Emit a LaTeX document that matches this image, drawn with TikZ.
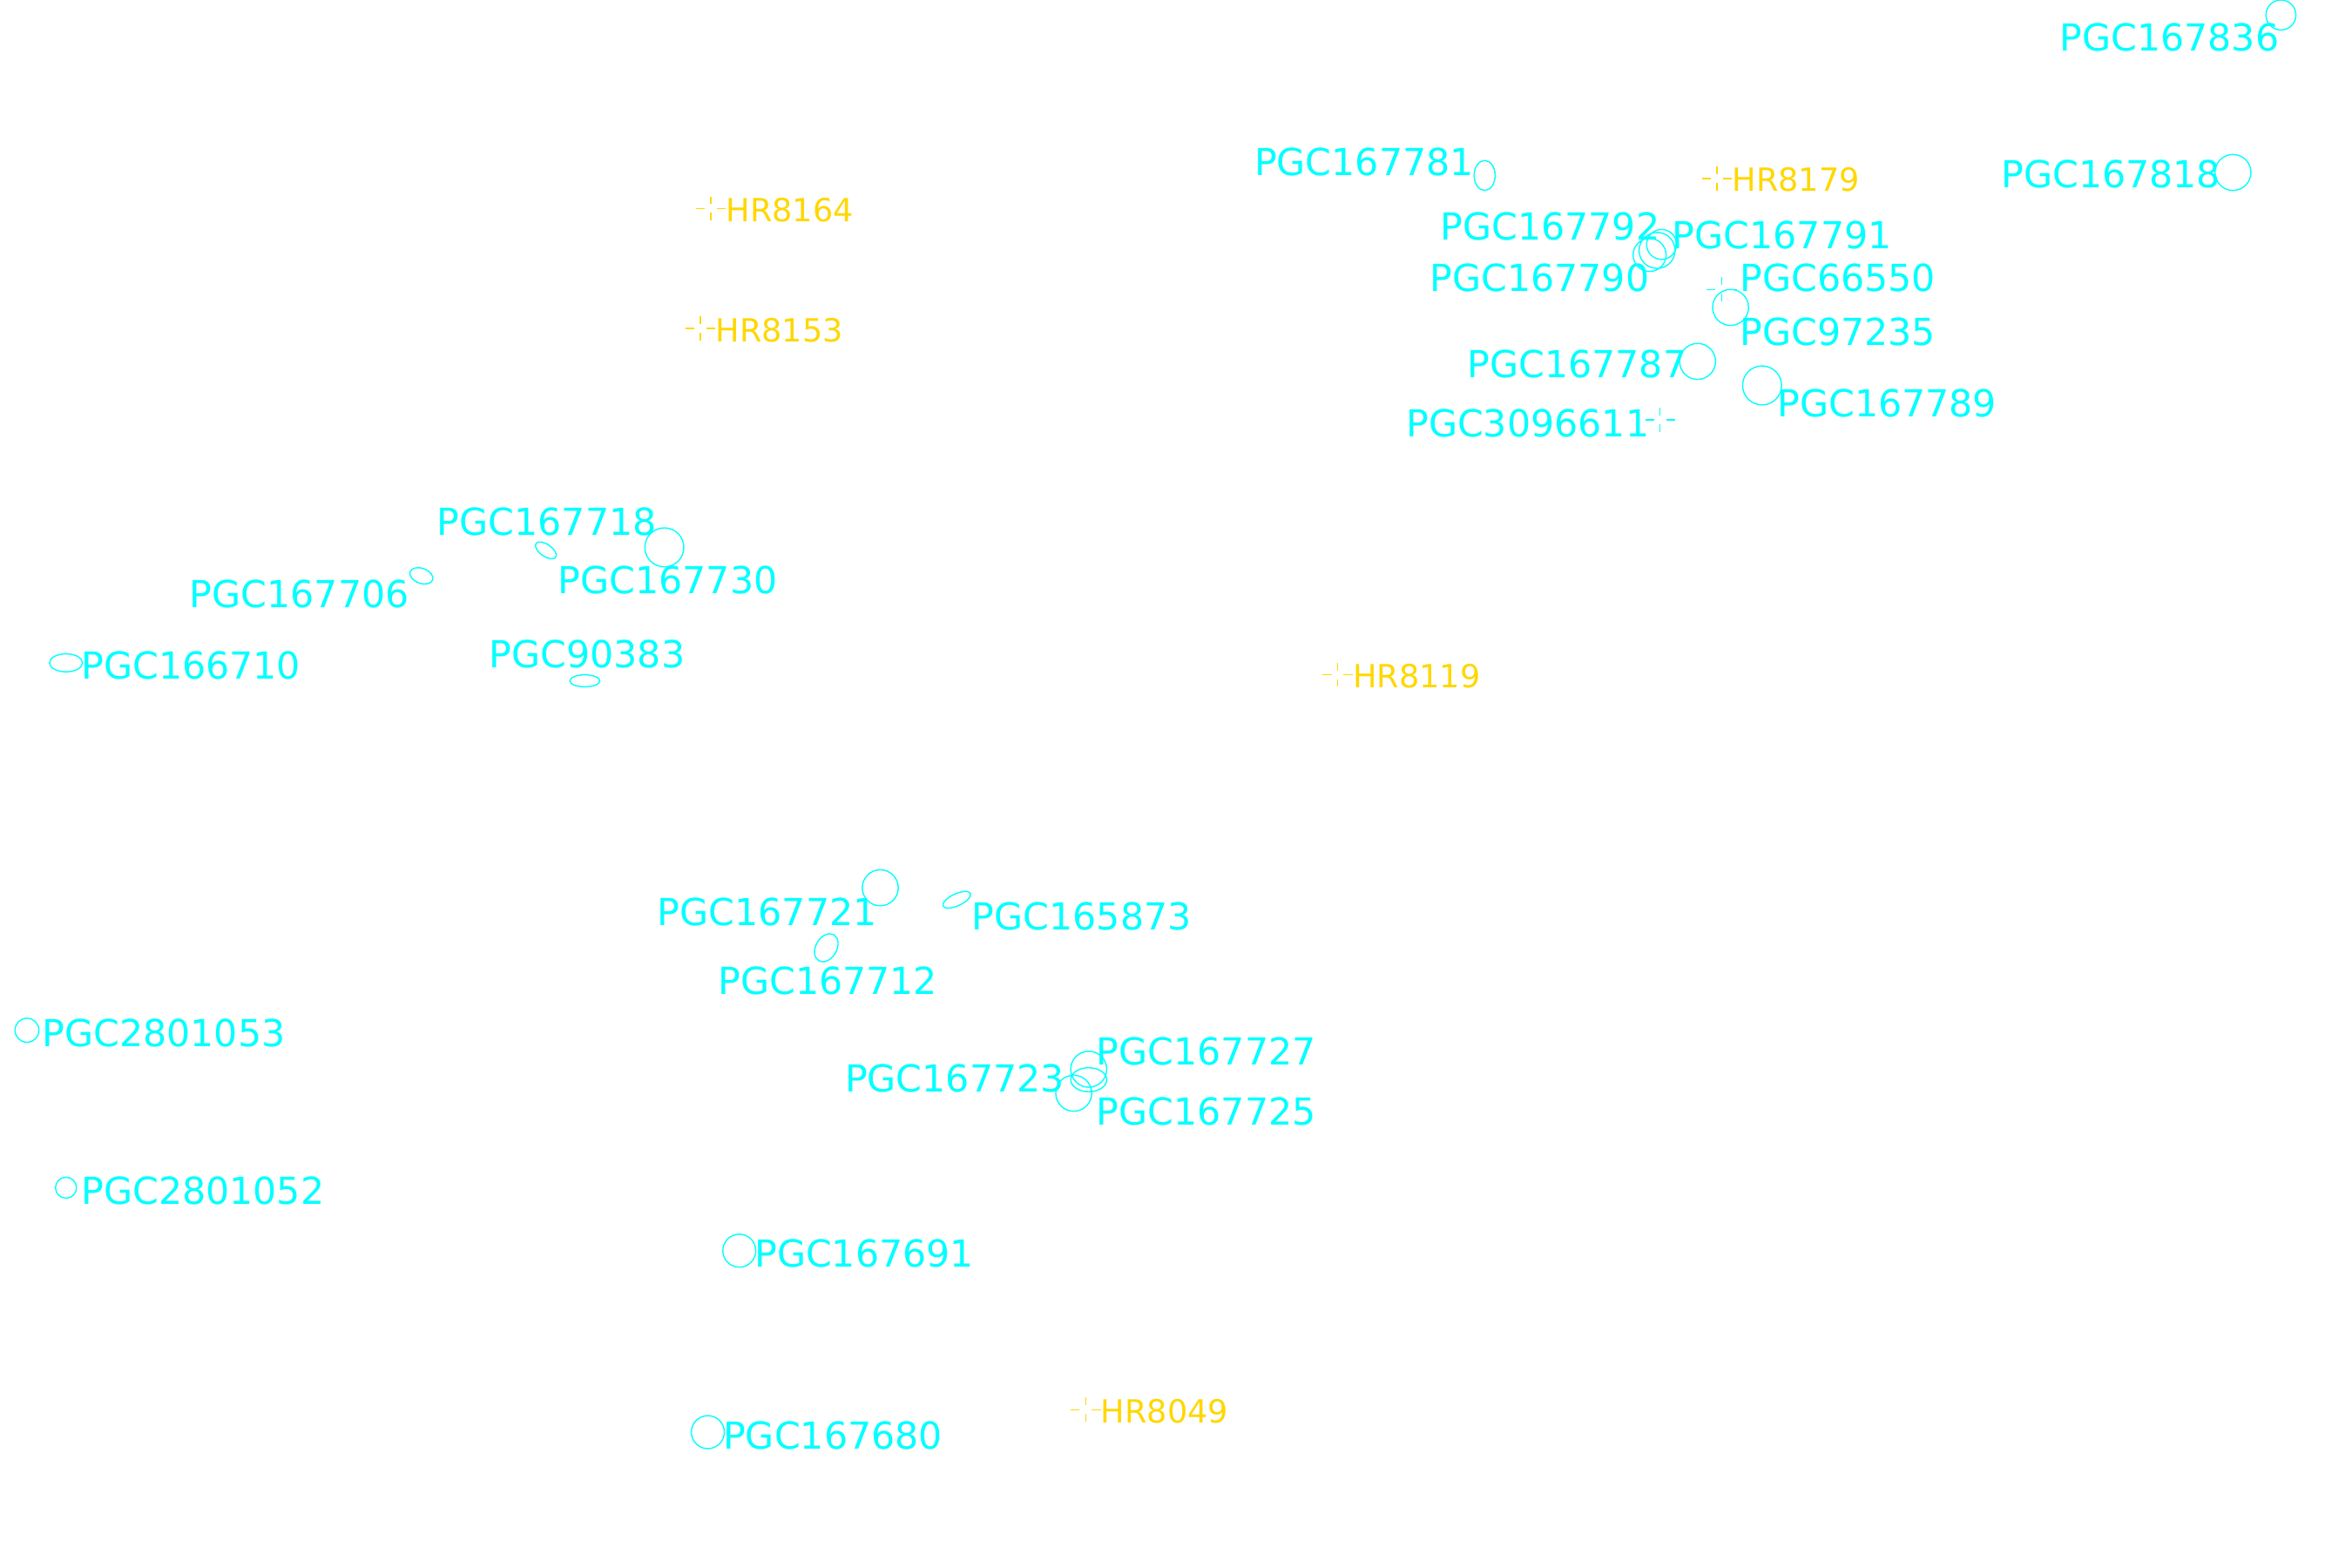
\documentclass[tikz,border=0pt]{standalone}
\usepackage{fontspec}
\setmainfont{DejaVu Sans}
\definecolor{cy}{RGB}{0,255,255}
\definecolor{gd}{RGB}{255,215,0}
\tikzset{
 gal/.style={draw=cy,line width=0.8pt},
 lab/.style={text=cy,font=\fontsize{24.5}{24.5}\selectfont,inner sep=0pt},
 slab/.style={text=gd,font=\fontsize{21}{21}\selectfont,inner sep=0pt},
}
\newcommand{\starmark}[3]{%
 \draw[#3,line width=0.8pt] (#1-10,#2)--(#1-4,#2) (#1+4,#2)--(#1+10,#2) (#1,#2-8)--(#1,#2-3) (#1,#2+3)--(#1,#2+8);}
\begin{document}
\begin{tikzpicture}[x=0.987pt,y=-0.987pt]
\useasboundingbox[fill=white] (0,0) rectangle (1568.4,1045.6);
% galaxies
\draw[gal] (1521,10) circle (10);
\node[lab,anchor=east] (l1) at (1520,25) {PGC167836};
\draw[gal] (1489,115) circle (12);
\node[lab,anchor=east] (l2) at (1481,116) {PGC167818};
\draw[gal] (990,117) ellipse (7 and 10);
\node[lab,anchor=east] (l3) at (983,108) {PGC167781};
\draw[gal] (1105,167) circle (12) (1100,170) circle (11) (1108,163) circle (10);
\node[lab,anchor=east] (l4) at (1107,151) {PGC167792};
\node[lab,anchor=west] (l5) at (1115,157) {PGC167791};
\node[lab,anchor=east] (l6) at (1100,185) {PGC167790};
\starmark{1148}{193}{cy}
\node[lab,anchor=west] (l7) at (1160,185) {PGC66550};
\draw[gal] (1154,205) circle (12);
\node[lab,anchor=west] (l8) at (1160,221) {PGC97235};
\draw[gal] (1132,241) circle (12);
\node[lab,anchor=east] (l9) at (1125,243) {PGC167787};
\draw[gal] (1175,257) circle (13);
\node[lab,anchor=west] (l10) at (1185,269) {PGC167789};
\starmark{1107}{280}{cy}
\node[lab,anchor=east] (l11) at (1100,282) {PGC3096611};
\draw[gal,rotate around={-35:(364,367)}] (364,367) ellipse (8 and 4);
\node[lab,anchor=east] (l12) at (438,348) {PGC167718};
\draw[gal] (443,365) circle (13);
\node[lab,anchor=west] (l13) at (372,387) {PGC167730};
\draw[gal,rotate around={-20:(281,384)}] (281,384) ellipse (8 and 5);
\node[lab,anchor=east] (l14) at (273,396) {PGC167706};
\draw[gal] (44,442) ellipse (11 and 6);
\node[lab,anchor=west] (l15) at (54,444) {PGC166710};
\draw[gal] (390,454) ellipse (10 and 4);
\node[lab,anchor=east] (l16) at (457,436) {PGC90383};
\draw[gal] (587,592) circle (12);
\node[lab,anchor=east] (l17) at (585,608) {PGC167721};
\draw[gal,rotate around={25:(638,600)}] (638,600) ellipse (10 and 4);
\node[lab,anchor=west] (l18) at (648,611) {PGC165873};
\draw[gal,rotate around={-30:(551,632)}] (551,632) ellipse (7 and 10);
\node[lab] (l19) at (552,654) {PGC167712};
\draw[gal] (18,687) circle (8);
\node[lab,anchor=west] (l20) at (28,689) {PGC2801053};
\draw[gal] (726,713) circle (12) (716,729) circle (12) (726,720) ellipse (12 and 8);
\node[lab,anchor=west] (l21) at (731,701) {PGC167727};
\node[lab,anchor=east] (l22) at (710,719) {PGC167723};
\node[lab,anchor=west] (l23) at (731,741) {PGC167725};
\draw[gal] (44,792) circle (7);
\node[lab,anchor=west] (l24) at (54,794) {PGC2801052};
\draw[gal] (493,834) circle (11);
\node[lab,anchor=west] (l25) at (503,836) {PGC167691};
\draw[gal] (472,955) circle (11);
\node[lab,anchor=west] (l26) at (482,957) {PGC167680};
% stars
\starmark{474}{139}{gd}
\node[slab,anchor=west] (s1) at (484,140) {HR8164};
\starmark{467}{219}{gd}
\node[slab,anchor=west] (s2) at (477,220) {HR8153};
\starmark{1145}{119}{gd}
\node[slab,anchor=west] (s3) at (1155,120) {HR8179};
\starmark{892}{450}{gd}
\node[slab,anchor=west] (s4) at (902,451) {HR8119};
\starmark{724}{940}{gd}
\node[slab,anchor=west] (s5) at (734,941) {HR8049};
\end{tikzpicture}
\end{document}
